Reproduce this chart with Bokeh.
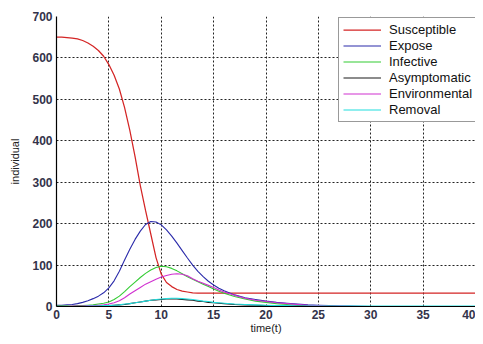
from bokeh.plotting import figure
from bokeh.models import FixedTicker, Legend, LegendItem, Range1d
from bokeh.embed import file_html
from bokeh.resources import INLINE

t = [0, 0.5, 1, 1.5, 2, 2.5, 3, 3.5, 4, 4.5, 5, 5.5, 6, 6.5, 7, 7.5, 8, 8.5, 9, 9.5,
     10, 10.5, 11, 11.5, 12, 12.5, 13, 13.5, 14, 14.5, 15, 15.5, 16,
     17, 18, 19, 20, 21, 22, 23, 24, 25, 26, 27, 28, 30, 32, 35, 40]

susceptible = [650, 650, 649, 648, 646, 642, 636, 628, 618, 604, 584, 558, 525, 480, 425, 362, 292, 232, 175, 118,
               78, 58, 48, 41, 37, 35, 33, 32.5, 32, 32, 32, 32, 32,
               32, 32, 32, 32, 32, 32, 32, 32, 32, 32, 32, 32, 32, 32, 32, 32]
expose = [3, 3, 4, 5, 7, 10, 14, 19, 25, 33, 45, 62, 85, 112, 138, 162, 182, 198, 205, 204,
          197, 185, 170, 153, 135, 117, 100, 85, 72, 61, 52, 44, 38,
          28, 21, 17, 13, 10, 8, 6, 4, 3, 2, 1, 1, 0, 0, 0, 0]
infective = [1, 1, 1, 1, 2, 2, 3, 4, 6, 8, 11, 17, 25, 36, 48, 59, 70, 80, 88, 94,
             97, 96, 92, 86, 79, 72, 66, 60, 54, 48, 42, 37, 32,
             24, 18, 13, 10, 7, 5, 3, 2, 1, 1, 0, 0, 0, 0, 0, 0]
asymptomatic = [0, 0, 0, 0, 0, 0, 0.5, 1, 1, 2, 2, 3, 4, 5, 7, 9, 11, 13, 15, 16,
                17, 18, 18, 18, 17, 16, 15, 13, 12, 10, 9, 8, 7,
                5, 4, 3, 2, 2, 1, 1, 1, 0, 0, 0, 0, 0, 0, 0, 0]
environmental = [0, 0, 0, 1, 1, 1, 2, 2, 3, 4, 6, 9, 14, 21, 30, 38, 46, 54, 60, 66,
                 71, 75, 78, 79, 78, 74, 67, 61, 56, 51, 46, 40, 35,
                 27, 20, 15, 12, 9, 7, 5, 3, 2, 1, 1, 0, 0, 0, 0, 0]
removal = [0, 0, 0, 0, 0, 0, 1, 1, 1, 2, 2, 3, 4, 6, 7, 9, 11, 13, 15, 17,
           18, 19, 20, 20, 19, 18, 17, 15, 13, 12, 10, 9, 8,
           6, 5, 4, 3, 2, 2, 1, 1, 1, 1, 1, 1, 1, 1, 1, 1]

series_names = ["Susceptible", "Expose", "Infective", "Asymptomatic", "Environmental", "Removal"]
series_values = [susceptible, expose, infective, asymptomatic, environmental, removal]
series_colors = ["#d42525", "#2a2aaa", "#33cc33", "#1a1a1a", "#d030d0", "#20dede"]

x_ticks = [0, 5, 10, 15, 20, 25, 30, 35, 40]
y_ticks = [0, 100, 200, 300, 400, 500, 600, 700]

p = figure(width=475, height=336, output_backend="svg", toolbar_location=None,
           x_range=Range1d(0, 40), y_range=Range1d(0, 700),
           min_border_left=56, min_border_top=16, min_border_bottom=29, min_border_right=0)

p.outline_line_color = None
p.background_fill_color = "white"

items = []
for name, vals, col in zip(series_names, series_values, series_colors):
    w = 1.25 if name == "Susceptible" else 1.1
    r = p.line(t, vals, line_color=col, line_width=w)
    items.append(LegendItem(label=name, renderers=[r]))

for ax in (p.xaxis[0], p.yaxis[0]):
    ax.major_label_text_font = "Liberation Sans"
    ax.major_label_text_font_size = "12px"
    ax.major_label_text_font_style = "bold"
    ax.major_label_text_color = "#33334a"
    ax.axis_label_text_font = "Liberation Sans"
    ax.axis_label_text_font_size = "11px"
    ax.axis_label_text_font_style = "normal"
    ax.axis_label_text_color = "#222222"
    ax.axis_line_color = "black"
    ax.axis_line_width = 1.2
    ax.major_tick_in = 0
    ax.major_tick_out = 0
    ax.minor_tick_line_color = None

p.xaxis[0].ticker = FixedTicker(ticks=x_ticks)
p.yaxis[0].ticker = FixedTicker(ticks=y_ticks)
p.xaxis[0].axis_label = "time(t)"
p.yaxis[0].axis_label = "individual"
p.xaxis[0].major_label_standoff = 3
p.yaxis[0].major_label_standoff = 4
p.xaxis[0].axis_label_standoff = 0
p.yaxis[0].axis_label_standoff = 8

for g in (p.xgrid[0], p.ygrid[0]):
    g.grid_line_color = "#222222"
    g.grid_line_dash = "2 2"
    g.grid_line_width = 1

legend = Legend(items=items, location=(282, 184))
legend.label_text_font = "Liberation Sans"
legend.label_text_font_size = "13px"
legend.label_text_color = "#111111"
legend.glyph_width = 38
legend.label_standoff = 8
legend.label_height = 15
legend.glyph_height = 15
legend.spacing = 1
legend.padding = 4
legend.margin = 0
legend.label_width = 80
legend.border_line_color = "#333333"
legend.border_line_width = 1
legend.background_fill_color = "white"
legend.background_fill_alpha = 1
p.add_layout(legend, "center")

open("out.html", "w").write(file_html(p, INLINE))
